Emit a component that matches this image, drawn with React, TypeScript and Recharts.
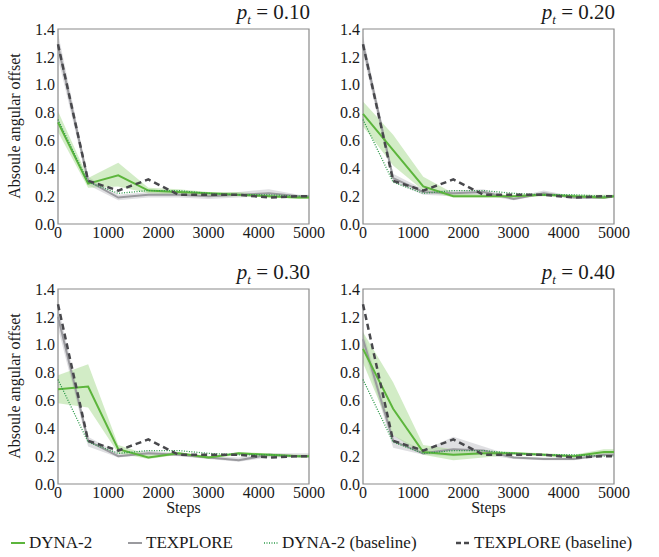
import React from "react";
import { Area, ComposedChart, Line, ReferenceArea, XAxis, YAxis } from "recharts";

// sample points along the x axis
const STEPS = [0, 600, 1200, 1800, 2400, 3000, 3600, 4200, 4800, 5000];
const X_TICKS = [0, 1000, 2000, 3000, 4000, 5000];
const Y_TICKS = [0, 0.2, 0.4, 0.6, 0.8, 1.0, 1.2, 1.4];

// baselines do not depend on p_t
const BASE_DYNA = [0.75, 0.3, 0.22, 0.24, 0.24, 0.22, 0.21, 0.21, 0.2, 0.2];
const BASE_TEX = [1.29, 0.31, 0.24, 0.32, 0.21, 0.21, 0.21, 0.19, 0.2, 0.2];

// p_t = 0.10
const P10_DYNA = [0.73, 0.29, 0.35, 0.24, 0.23, 0.22, 0.21, 0.2, 0.19, 0.19];
const P10_DYNA_LO = [0.66, 0.26, 0.27, 0.22, 0.21, 0.2, 0.2, 0.19, 0.18, 0.18];
const P10_DYNA_HI = [0.81, 0.33, 0.44, 0.26, 0.25, 0.23, 0.23, 0.21, 0.2, 0.2];
const P10_TEX = [1.28, 0.31, 0.19, 0.21, 0.21, 0.2, 0.21, 0.22, 0.2, 0.2];
const P10_TEX_LO = [1.19, 0.28, 0.17, 0.19, 0.19, 0.18, 0.19, 0.2, 0.19, 0.19];
const P10_TEX_HI = [1.37, 0.34, 0.21, 0.23, 0.23, 0.22, 0.23, 0.25, 0.21, 0.21];

// p_t = 0.20
const P20_DYNA = [0.79, 0.53, 0.27, 0.2, 0.2, 0.2, 0.21, 0.2, 0.19, 0.2];
const P20_DYNA_LO = [0.7, 0.42, 0.24, 0.19, 0.19, 0.19, 0.2, 0.19, 0.18, 0.19];
const P20_DYNA_HI = [0.88, 0.64, 0.34, 0.22, 0.21, 0.21, 0.22, 0.21, 0.21, 0.21];
const P20_TEX = [1.29, 0.33, 0.23, 0.22, 0.23, 0.18, 0.22, 0.19, 0.19, 0.2];
const P20_TEX_LO = [1.22, 0.3, 0.21, 0.2, 0.21, 0.17, 0.21, 0.18, 0.18, 0.19];
const P20_TEX_HI = [1.35, 0.36, 0.25, 0.24, 0.25, 0.19, 0.24, 0.2, 0.2, 0.21];

// p_t = 0.30
const P30_DYNA = [0.68, 0.7, 0.25, 0.19, 0.22, 0.19, 0.22, 0.21, 0.2, 0.2];
const P30_DYNA_LO = [0.58, 0.55, 0.22, 0.18, 0.21, 0.18, 0.21, 0.2, 0.19, 0.19];
const P30_DYNA_HI = [0.78, 0.86, 0.28, 0.21, 0.23, 0.2, 0.23, 0.22, 0.21, 0.21];
const P30_TEX = [1.2, 0.31, 0.2, 0.22, 0.21, 0.19, 0.17, 0.21, 0.2, 0.2];
const P30_TEX_LO = [1.12, 0.27, 0.19, 0.21, 0.2, 0.18, 0.16, 0.19, 0.19, 0.19];
const P30_TEX_HI = [1.28, 0.34, 0.22, 0.24, 0.22, 0.2, 0.19, 0.22, 0.22, 0.22];

// p_t = 0.40
const P40_DYNA = [0.97, 0.54, 0.23, 0.21, 0.22, 0.22, 0.21, 0.2, 0.23, 0.23];
const P40_DYNA_LO = [0.87, 0.35, 0.21, 0.17, 0.19, 0.21, 0.2, 0.19, 0.21, 0.21];
const P40_DYNA_HI = [1.09, 0.73, 0.28, 0.25, 0.24, 0.23, 0.22, 0.21, 0.25, 0.25];
const P40_TEX = [1.04, 0.31, 0.22, 0.25, 0.24, 0.19, 0.18, 0.18, 0.21, 0.21];
const P40_TEX_LO = [0.98, 0.26, 0.21, 0.2, 0.21, 0.18, 0.17, 0.17, 0.2, 0.2];
const P40_TEX_HI = [1.1, 0.35, 0.24, 0.34, 0.27, 0.2, 0.19, 0.19, 0.22, 0.22];

const C = {
  dyna: "#5cb53c",
  dynaBand: "#a6d98e",
  tex: "#9a9a9e",
  texBand: "#b9b9be",
  baseDyna: "#2e9a4a",
  baseTex: "#48484c",
  frame: "#8a8a8a",
  text: "#1a1a1a",
};
const FONT = "'Liberation Serif', 'Times New Roman', serif";

function buildRows(dyna, dLo, dHi, tex, tLo, tHi) {
  return STEPS.map((s, i) => ({
    step: s,
    dyna: dyna[i],
    dynaBand: [dLo[i], dHi[i]],
    tex: tex[i],
    texBand: [tLo[i], tHi[i]],
    baseDyna: BASE_DYNA[i],
    baseTex: BASE_TEX[i],
  }));
}

const PANELS = [
  { title: "0.10", left: 0, top: 0, width: 330, height: 250, right: 21, yw: 58, yLabel: true, xLabel: false,
    rows: buildRows(P10_DYNA, P10_DYNA_LO, P10_DYNA_HI, P10_TEX, P10_TEX_LO, P10_TEX_HI) },
  { title: "0.20", left: 330, top: 0, width: 329, height: 250, right: 45, yw: 33, yLabel: false, xLabel: false,
    rows: buildRows(P20_DYNA, P20_DYNA_LO, P20_DYNA_HI, P20_TEX, P20_TEX_LO, P20_TEX_HI) },
  { title: "0.30", left: 0, top: 260, width: 330, height: 270, right: 21, yw: 58, yLabel: true, xLabel: true,
    rows: buildRows(P30_DYNA, P30_DYNA_LO, P30_DYNA_HI, P30_TEX, P30_TEX_LO, P30_TEX_HI) },
  { title: "0.40", left: 330, top: 260, width: 329, height: 270, right: 45, yw: 33, yLabel: false, xLabel: true,
    rows: buildRows(P40_DYNA, P40_DYNA_LO, P40_DYNA_HI, P40_TEX, P40_TEX_LO, P40_TEX_HI) },
];

function Panel({ p }) {
  const bottom = p.xLabel ? 46 : 26;
  const tick = { fontSize: 16, fill: C.text, fontFamily: FONT };
  return (
    <div style={{ position: "absolute", left: p.left, top: p.top, width: p.width, height: p.height, fontFamily: FONT }}>
      <ComposedChart
        width={p.width}
        height={p.height}
        data={p.rows}
        margin={{ top: 29, right: p.right, bottom: 0, left: 0 }}
      >
        <XAxis
          dataKey="step"
          type="number"
          domain={[0, 5000]}
          ticks={X_TICKS}
          tick={tick}
          tickLine={false}
          tickSize={0}
          axisLine={false}
          height={bottom}
          tickMargin={3}
          label={
            p.xLabel
              ? { value: "Steps", position: "insideBottom", offset: 17, fill: C.text, fontSize: 16, fontFamily: FONT }
              : undefined
          }
        />
        <YAxis
          type="number"
          domain={[0, 1.4]}
          ticks={Y_TICKS}
          tick={tick}
          tickLine={false}
          tickSize={0}
          axisLine={false}
          width={p.yw}
          tickMargin={3}
          tickFormatter={(v) => v.toFixed(1)}
        />
        <Area type="linear" dataKey="texBand" stroke="none" fill={C.texBand} fillOpacity={0.45} isAnimationActive={false} />
        <Area type="linear" dataKey="dynaBand" stroke="none" fill={C.dynaBand} fillOpacity={0.5} isAnimationActive={false} />
        <Line type="linear" dataKey="tex" stroke={C.tex} strokeWidth={2} dot={false} isAnimationActive={false} />
        <Line type="linear" dataKey="dyna" stroke={C.dyna} strokeWidth={2} dot={false} isAnimationActive={false} />
        <Line type="linear" dataKey="baseDyna" stroke={C.baseDyna} strokeWidth={1.3} strokeDasharray="1 1.5" dot={false} isAnimationActive={false} />
        <Line type="linear" dataKey="baseTex" stroke={C.baseTex} strokeWidth={2.5} strokeDasharray="6 4" dot={false} isAnimationActive={false} />
        <ReferenceArea x1={0} x2={5000} y1={0} y2={1.4} fill="none" stroke={C.frame} strokeWidth={1.2} ifOverflow="visible" />
      </ComposedChart>
      <div
        style={{
          position: "absolute",
          right: p.right - 1,
          top: 0,
          fontSize: 21,
          color: C.text,
          lineHeight: "24px",
          whiteSpace: "nowrap",
        }}
      >
        <i>p</i>
        <sub style={{ fontSize: 13, fontStyle: "italic" }}>t</sub> = {p.title}
      </div>
      {p.yLabel && (
        <div
          style={{
            position: "absolute",
            left: 15,
            top: 126,
            transform: "translate(-50%, -50%) rotate(-90deg)",
            fontSize: 16,
            color: C.text,
            whiteSpace: "nowrap",
          }}
        >
          Absoule angular offset
        </div>
      )}
    </div>
  );
}

const LEGEND = [
  { label: "DYNA-2", color: C.dyna, width: 2, dash: undefined, left: 11 },
  { label: "TEXPLORE", color: C.tex, width: 2, dash: undefined, left: 128 },
  { label: "DYNA-2 (baseline)", color: C.baseDyna, width: 1.3, dash: "1 1.5", left: 264 },
  { label: "TEXPLORE (baseline)", color: C.baseTex, width: 2.5, dash: "5 3", left: 456 },
];

export default function App() {
  return (
    <div style={{ position: "absolute", left: 0, top: 0, width: 659, height: 557, background: "#fff" }}>
      {PANELS.map((p) => (
        <Panel key={p.title} p={p} />
      ))}
      {LEGEND.map((l) => (
        <div
          key={l.label}
          style={{
            position: "absolute",
            left: l.left,
            top: 533,
            display: "flex",
            alignItems: "center",
            fontFamily: FONT,
            fontSize: 17,
            color: C.text,
            whiteSpace: "nowrap",
          }}
        >
          <svg width={15} height={10} style={{ marginRight: 3 }}>
            <line x1={0} y1={5} x2={14} y2={5} stroke={l.color} strokeWidth={l.width} strokeDasharray={l.dash} />
          </svg>
          {l.label}
        </div>
      ))}
    </div>
  );
}
